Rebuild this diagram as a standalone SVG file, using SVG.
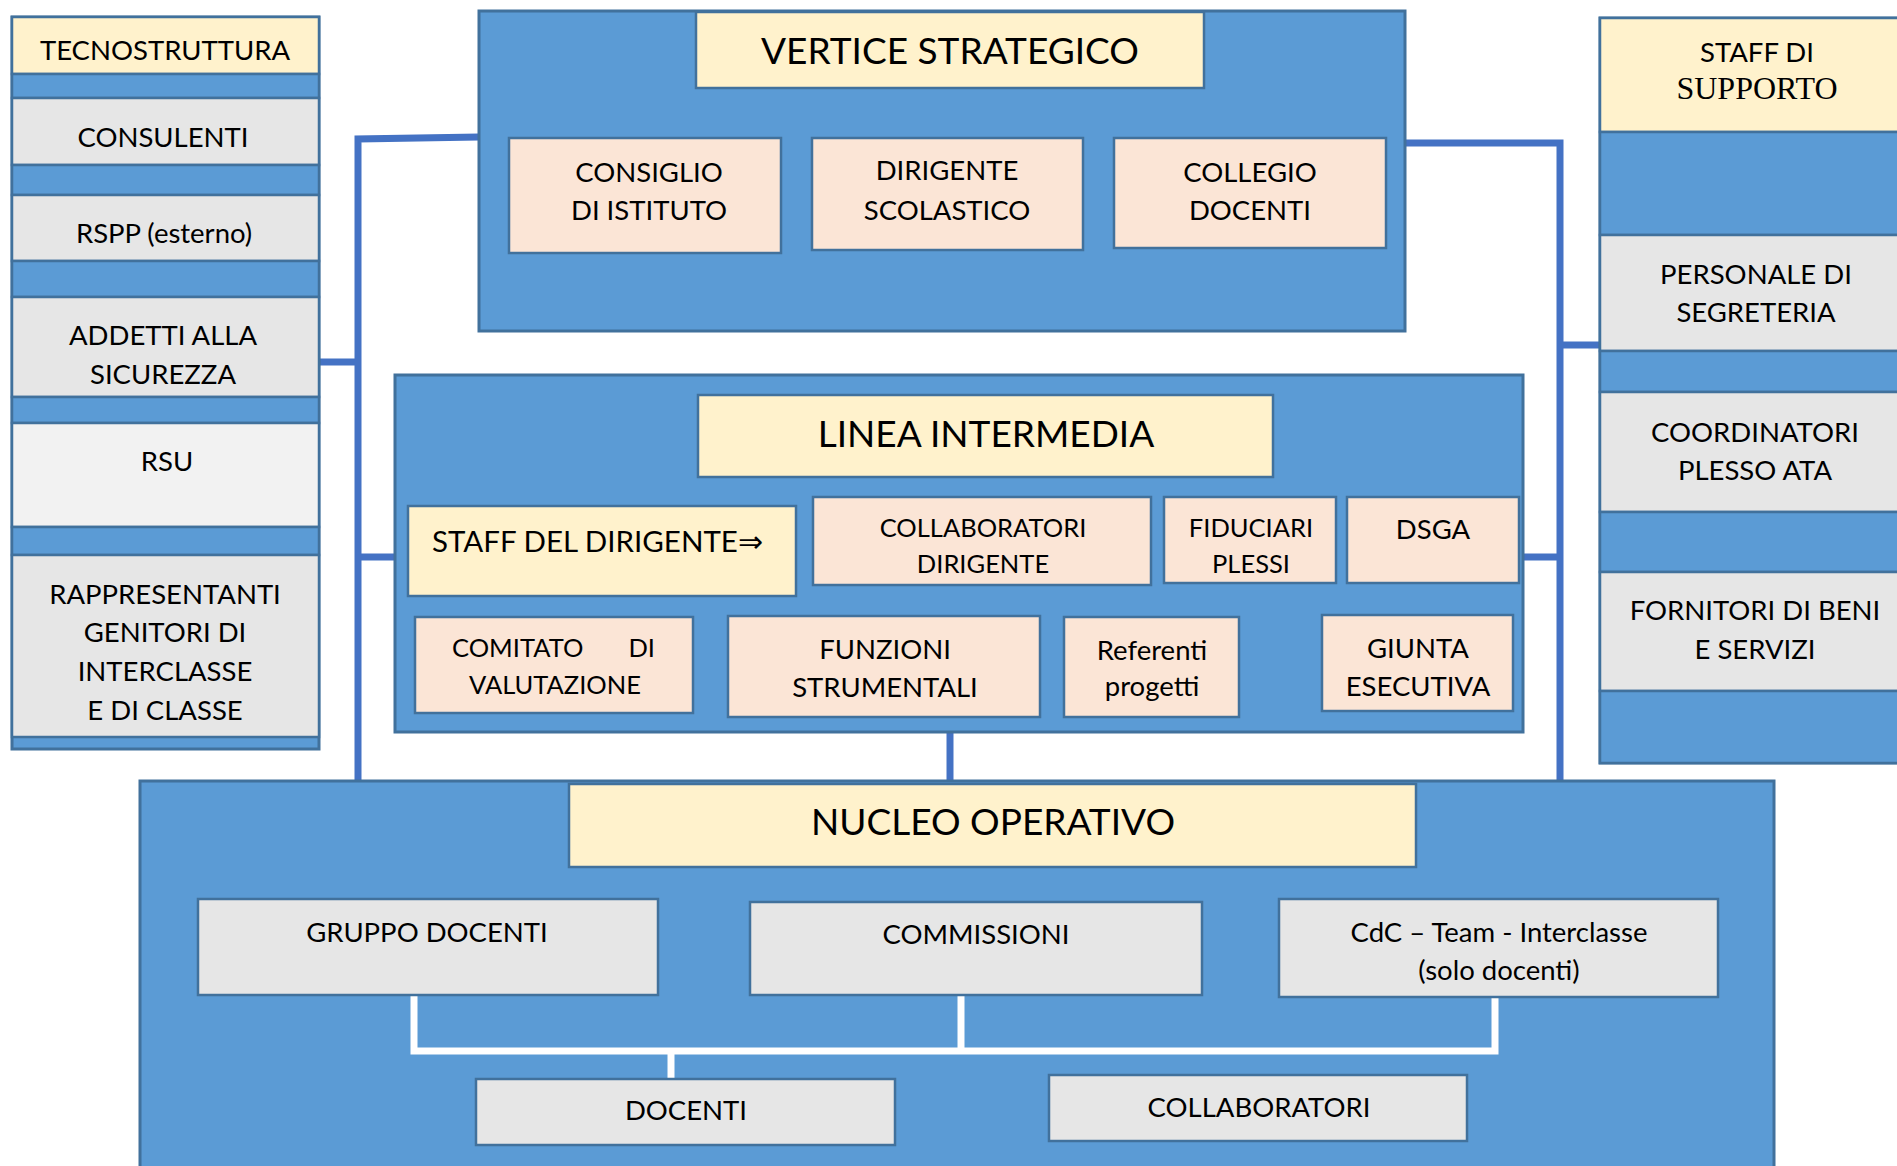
<svg xmlns="http://www.w3.org/2000/svg" width="1897" height="1166" viewBox="0 0 1897 1166">
<style>
.panel{fill:#5B9BD5;stroke:#41719C;stroke-width:3}
.cream{fill:#FFF2CC;stroke:#41719C;stroke-width:2.5}
.peach{fill:#FBE5D6;stroke:#41719C;stroke-width:2.5}
.gray{fill:#E6E6E6;stroke:#41719C;stroke-width:2.5}
.light{fill:#F2F2F2;stroke:#41719C;stroke-width:2.5}
.band{fill:#5B9BD5;stroke:#41719C;stroke-width:2.5}
text{font-family:Lato,"Liberation Sans",sans-serif;fill:#000;text-anchor:middle;font-size:27.5px}
.t{font-size:37px}
.s{font-size:25.5px}
.serif{font-family:"Liberation Serif",serif;font-size:32px}
.conn{fill:none;stroke:#4472C4;stroke-width:7}
.wconn{fill:none;stroke:#FFFFFF;stroke-width:7}
</style>

<g id="connectors">
<path class="conn" d="M479 137 L358 139 L358 781"/>
<path class="conn" d="M319 362 H358"/>
<path class="conn" d="M358 557 H395"/>
<path class="conn" d="M1405 143 H1560 V781"/>
<path class="conn" d="M1560 345 H1600"/>
<path class="conn" d="M1523 557 H1560"/>
<path class="conn" d="M950 717 V781"/>
</g>

<g id="tecnostruttura">
<rect class="panel" x="12" y="17" width="307" height="732"/>
<rect class="cream" x="12" y="17" width="307" height="57"/>
<text x="165" y="60">TECNOSTRUTTURA</text>
<rect class="band" x="12" y="74" width="307" height="24"/>
<rect class="gray" x="12" y="98" width="307" height="67"/>
<text x="163" y="147">CONSULENTI</text>
<rect class="band" x="12" y="165" width="307" height="30"/>
<rect class="gray" x="12" y="195" width="307" height="66"/>
<text x="164" y="243">RSPP (esterno)</text>
<rect class="band" x="12" y="261" width="307" height="36"/>
<rect class="gray" x="12" y="297" width="307" height="100"/>
<text x="163" y="345">ADDETTI ALLA</text>
<text x="163" y="384">SICUREZZA</text>
<rect class="band" x="12" y="397" width="307" height="26"/>
<rect class="light" x="12" y="423" width="307" height="104"/>
<text x="167" y="471">RSU</text>
<rect class="band" x="12" y="527" width="307" height="28"/>
<rect class="gray" x="12" y="555" width="307" height="182"/>
<text x="165" y="604">RAPPRESENTANTI</text>
<text x="165" y="642">GENITORI DI</text>
<text x="165" y="681">INTERCLASSE</text>
<text x="165" y="720">E DI CLASSE</text>
</g>

<g id="vertice">
<rect class="panel" x="479" y="11" width="926" height="320"/>
<rect class="cream" x="696" y="12" width="508" height="76"/>
<text class="t" x="950" y="64">VERTICE STRATEGICO</text>
<g id="consiglio">
<rect class="peach" x="509" y="138" width="272" height="115"/>
<text x="649" y="182">CONSIGLIO</text>
<text x="649" y="220">DI ISTITUTO</text>
</g>
<g id="dirigente">
<rect class="peach" x="812" y="138" width="271" height="112"/>
<text x="947" y="180">DIRIGENTE</text>
<text x="947" y="220">SCOLASTICO</text>
</g>
<g id="collegio">
<rect class="peach" x="1114" y="138" width="272" height="110"/>
<text x="1250" y="182">COLLEGIO</text>
<text x="1250" y="220">DOCENTI</text>
</g>
</g>

<g id="staff-supporto">
<rect class="panel" x="1600" y="18" width="315" height="745"/>
<rect class="cream" x="1600" y="18" width="315" height="114"/>
<text x="1757" y="62">STAFF DI</text>
<text class="serif" x="1757" y="99">SUPPORTO</text>
<rect class="band" x="1600" y="132" width="315" height="103"/>
<rect class="gray" x="1600" y="235" width="315" height="116"/>
<text x="1756" y="284">PERSONALE DI</text>
<text x="1756" y="322">SEGRETERIA</text>
<rect class="band" x="1600" y="351" width="315" height="41"/>
<rect class="gray" x="1600" y="392" width="315" height="120"/>
<text x="1755" y="442">COORDINATORI</text>
<text x="1755" y="480">PLESSO ATA</text>
<rect class="band" x="1600" y="512" width="315" height="60"/>
<rect class="gray" x="1600" y="572" width="315" height="119"/>
<text x="1755" y="620">FORNITORI DI BENI</text>
<text x="1755" y="659">E SERVIZI</text>
<rect class="band" x="1600" y="691" width="315" height="72"/>
</g>

<g id="linea">
<rect class="panel" x="395" y="375" width="1128" height="357"/>
<rect class="cream" x="698" y="395" width="575" height="82"/>
<text class="t" x="986" y="447">LINEA INTERMEDIA</text>
<g id="staff-dirigente">
<rect class="cream" x="408" y="506" width="388" height="90"/>
<text x="432" y="552" style="text-anchor:start;font-size:29.5px">STAFF DEL DIRIGENTE⇒</text>
</g>
<g id="collaboratori-dirigente">
<rect class="peach" x="813" y="497" width="338" height="88"/>
<text class="s" x="983" y="537">COLLABORATORI</text>
<text class="s" x="983" y="573">DIRIGENTE</text>
</g>
<g id="fiduciari">
<rect class="peach" x="1164" y="497" width="172" height="86"/>
<text class="s" x="1251" y="537">FIDUCIARI</text>
<text class="s" x="1251" y="573">PLESSI</text>
</g>
<g id="dsga">
<rect class="peach" x="1347" y="497" width="172" height="86"/>
<text x="1433" y="539">DSGA</text>
</g>
<g id="comitato">
<rect class="peach" x="415" y="617" width="278" height="96"/>
<text class="s" y="657"><tspan x="452" style="text-anchor:start">COMITATO</tspan><tspan x="655" style="text-anchor:end">DI</tspan></text>
<text class="s" x="555" y="694">VALUTAZIONE</text>
</g>
<g id="funzioni">
<rect class="peach" x="728" y="616" width="312" height="101"/>
<text x="885" y="659">FUNZIONI</text>
<text x="885" y="697">STRUMENTALI</text>
</g>
<g id="referenti">
<rect class="peach" x="1064" y="617" width="175" height="100"/>
<text x="1152" y="660">Referenti</text>
<text x="1152" y="696">progetti</text>
</g>
<g id="giunta">
<rect class="peach" x="1322" y="615" width="191" height="96"/>
<text x="1418" y="658">GIUNTA</text>
<text x="1418" y="696">ESECUTIVA</text>
</g>
</g>

<g id="nucleo">
<rect class="panel" x="140" y="781" width="1634" height="420"/>
<rect class="cream" x="569" y="784" width="847" height="83"/>
<text class="t" x="993" y="835">NUCLEO OPERATIVO</text>
<g id="nucleo-connectors">
<path class="wconn" d="M414 995 V1051 H1495 V997"/>
<path class="wconn" d="M961 995 V1051"/>
<path class="wconn" d="M671 1051 V1079"/>
</g>
<g id="gruppo-docenti">
<rect class="gray" x="198" y="899" width="460" height="96"/>
<text x="427" y="942">GRUPPO DOCENTI</text>
</g>
<g id="commissioni">
<rect class="gray" x="750" y="902" width="452" height="93"/>
<text x="976" y="944">COMMISSIONI</text>
</g>
<g id="cdc">
<rect class="gray" x="1279" y="899" width="439" height="98"/>
<text x="1499" y="942">CdC – Team - Interclasse</text>
<text x="1499" y="980">(solo docenti)</text>
</g>
<g id="docenti">
<rect class="gray" x="476" y="1079" width="419" height="66"/>
<text x="686" y="1120">DOCENTI</text>
</g>
<g id="collaboratori">
<rect class="gray" x="1049" y="1075" width="418" height="66"/>
<text x="1259" y="1117">COLLABORATORI</text>
</g>
</g>
</svg>
